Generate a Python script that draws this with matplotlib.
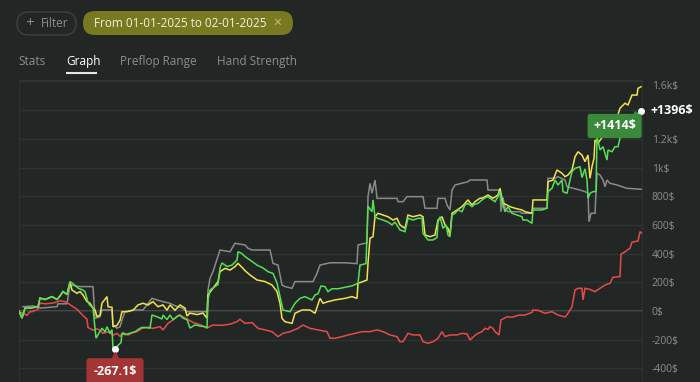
import matplotlib.pyplot as plt
from matplotlib.patches import FancyBboxPatch
from matplotlib import transforms

# Colours ---------------------------------------------------------------------
BG     = '#222726'
GRID   = '#2e3332'
ZERO   = '#565a59'
TICK   = '#8b8f8e'
GREEN  = '#55e055'
YELLOW = '#f2e34a'
GRAY   = '#8a8a8a'
RED    = '#e84a4a'

plt.rcParams['font.family'] = ['Open Sans', 'DejaVu Sans']

# Data: (hand, $) -----------------------------------------------------------------
green = [(19,0),(22,-50),(25,20),(30,20),(38,30),(40,90),(45,80),(52,100),(57,80),(60,105),
         (63,135),(67,115),(70,205),(73,190),(78,160),(83,145),(85,135),(88,60),(90,40),(93,20),
         (96,-190),(98,-165),(102,-120),(105,-145),(107,-110),(110,-155),(112,-130),(113,-258),
         (115,-267.1),(118,-240),(121,-220),(122,-155),(125,-165),(130,-155),(135,-145),(140,-120),
         (143,-114),(150,-119),(152,-28),(157,-40),(162,-56),(163,-28),(167,-60),(170,-28),(173,-60),
         (177,-40),(180,-28),(183,-50),(187,-60),(190,-119),(195,-97),(200,-105),(205,-110),(207,-119),
         (208,77),(210,146),(213,160),(218,185),(220,300),(222,335),(227,310),(232,320),(237,355),
         (238,413),(242,400),(245,379),(250,355),(257,320),(263,300),(268,274),(273,262),(277,195),
         (280,100),(283,7),(290,-5),(295,54),(300,88),(305,100),(312,77),(315,112),(318,120),(321,174),
         (325,170),(328,135),(332,155),(338,155),(345,165),(352,175),(358,193),(360,320),(366,330),
         (368,730),(372,692),(373,774),(375,657),(378,645),(383,634),(388,620),(392,600),(395,620),
         (400,565),(405,553),(408,646),(413,634),(418,646),(422,646),(423,541),(428,495),(433,495),
         (437,512),(438,620),(440,657),(443,576),(446,600),(448,530),(450,518),(452,669),(455,680),
         (458,704),(462,692),(465,739),(468,750),(472,727),(475,745),(478,750),(482,774),(487,797),
         (490,786),(495,762),(498,797),(500,832),(502,762),(505,692),(508,727),(512,681),(517,669),
         (522,657),(523,634),(527,634),(532,611),(533,704),(537,704),(542,704),(547,716),(548,832),
         (552,855),(555,913),(558,878),(562,913),(563,832),(567,820),(570,913),(572,971),(575,994),
         (580,1006),(582,930),(585,990),(587,913),(588,785),(590,820),(593,832),(596,832),(597,1215),
         (600,1122),(603,1145),(607,1052),(608,1122),(612,1110),(615,1145),(618,1145),(620,1204),
         (625,1260),(630,1320),(635,1360),(640,1389),(641,1396)]

yellow = [(19,0),(22,-50),(25,20),(30,20),(38,30),(40,90),(45,80),(52,100),(57,80),(60,105),
          (63,135),(67,115),(70,200),(72,146),(77,123),(80,135),(83,112),(87,65),(90,54),(93,20),
          (95,7),(97,-40),(100,-30),(102,55),(107,100),(108,30),(112,25),(113,-110),(117,-100),
          (120,-65),(122,-5),(127,-5),(133,5),(138,42),(143,54),(148,42),(153,65),(158,30),(163,42),
          (167,5),(170,42),(175,5),(180,42),(185,20),(187,-35),(190,-15),(197,-25),(203,-15),(207,-50),
          (208,112),(213,158),(218,205),(220,274),(225,297),(230,285),(235,309),(238,332),(243,297),
          (245,281),(250,251),(257,216),(265,205),(272,181),(277,135),(280,54),(282,-51),(285,-75),
          (292,-86),(295,-16),(302,7),(310,7),(315,-16),(320,88),(323,54),(328,65),(335,77),(345,88),
          (352,100),(357,88),(358,193),(363,205),(367,216),(368,332),(370,507),(373,518),(375,657),
          (378,681),(383,669),(388,657),(393,634),(397,646),(400,600),(405,576),(408,669),(413,657),
          (420,669),(423,657),(425,530),(430,518),(435,530),(438,634),(442,657),(445,600),(448,576),
          (450,530),(452,681),(457,704),(462,727),(465,750),(468,774),(472,739),(475,762),(480,786),
          (482,786),(488,808),(493,786),(498,808),(500,855),(503,750),(507,739),(510,727),(515,716),
          (522,704),(525,692),(532,681),(533,774),(538,774),(547,774),(548,901),(553,913),(557,983),
          (562,960),(565,936),(568,948),(572,983),(575,1075),(578,1110),(582,1087),(585,1041),
          (588,1087),(590,925),(592,1006),(594,1064),(595,1192),(598,1169),(603,1220),(608,1270),
          (613,1320),(618,1370),(620,1413),(625,1448),(628,1436),(632,1505),(637,1505),(638,1552),
          (641,1563)]

gray = [(23,30),(33,35),(40,20),(57,30),(58,50),(67,50),(70,181),(80,170),(93,170),(95,-51),
        (100,-40),(102,7),(112,7),(113,-98),(117,-120),(120,-110),(122,-63),(125,-5),(133,7),
        (143,7),(152,88),(157,77),(163,65),(170,54),(173,42),(178,30),(182,20),(187,-5),(207,-5),
        (208,146),(210,228),(213,274),(220,425),(230,413),(235,472),(245,460),(248,437),(252,425),
        (270,425),(273,332),(278,320),(282,181),(285,170),(292,158),(295,205),(313,205),(317,262),
        (320,320),(330,336),(345,336),(357,330),(358,460),(365,472),(367,472),(368,797),(370,890),
        (372,820),(375,913),(377,785),(397,785),(398,762),(403,762),(407,797),(423,797),(425,716),
        (437,716),(438,785),(445,785),(447,739),(450,704),(452,843),(455,878),(468,901),(470,913),
        (487,913),(488,843),(500,843),(501,692),(503,790),(505,720),(508,692),(520,692),(522,681),
        (532,681),(533,716),(547,716),(548,925),(555,925),(558,936),(565,913),(567,866),(580,843),
        (585,832),(588,820),(589,622),(591,681),(595,681),(597,960),(600,948),(603,913),(605,866),
        (607,913),(610,890),(617,878),(627,855),(642,848)]

red = [(19,-5),(23,-16),(27,-30),(30,-5),(32,-5),(38,12),(40,55),(45,50),(52,54),(58,65),(60,72),
       (65,65),(68,54),(73,30),(77,12),(82,-25),(87,-58),(88,-115),(93,-133),(97,-125),(100,-133),
       (103,-156),(108,-145),(113,-168),(117,-156),(120,-177),(123,-150),(128,-168),(133,-150),
       (137,-144),(142,-121),(148,-113),(153,-121),(160,-109),(163,-132),(168,-86),(173,-63),
       (178,-30),(183,-40),(188,-60),(193,-80),(200,-95),(207,-118),(213,-98),(222,-100),(230,-92),
       (237,-74),(240,-58),(245,-86),(252,-81),(258,-121),(265,-132),(272,-144),(278,-179),
       (283,-156),(290,-144),(298,-121),(303,-98),(310,-121),(318,-132),(327,-144),(330,-190),
       (335,-190),(342,-179),(348,-167),(355,-156),(362,-144),(370,-144),(377,-132),(383,-144),
       (390,-167),(397,-179),(400,-214),(403,-214),(408,-156),(413,-167),(420,-167),(423,-214),
       (428,-225),(433,-214),(438,-190),(442,-144),(445,-179),(450,-167),(457,-167),(462,-156),
       (467,-160),(470,-202),(475,-170),(478,-156),(482,-144),(485,-121),(488,-128),(490,-109),
       (493,-121),(495,-144),(499,-167),(501,-63),(507,-40),(512,-44),(518,-30),(525,-28),
       (532,-10),(533,7),(538,5),(545,-16),(552,-5),(558,-28),(565,-42),(568,-16),(572,30),
       (575,146),(578,158),(582,158),(583,77),(585,158),(590,150),(595,135),(600,158),(605,181),
       (610,193),(613,235),(620,240),(621,395),(625,413),(630,437),(632,480),(638,488),(640,553),
       (642,541)]

tick_vals   = [-400, -200, 0, 200, 400, 600, 800, 1000, 1200, 1400, 1600]
tick_labels = ['-400$', '-200$', '0$', '200$', '400$', '600$', '800$', '1k$', '1.2k$', '', '1.6k$']
hover_label = '+1414$'
tabs        = ['Stats', 'Graph', 'Preflop Range', 'Hand Strength']
date_range  = 'From 01-01-2025 to 02-01-2025'


def unzip(pts):
    return [p[0] for p in pts], [p[1] for p in pts]


# Figure -----------------------------------------------------------------------
fig = plt.figure(figsize=(7, 3.82), dpi=100)
fig.patch.set_facecolor(BG)

ax = fig.add_axes([19/700, 0, 623/700, 302/382])
ax.set_facecolor(BG)

for pts, col, z in [(gray, GRAY, 2), (red, RED, 3), (yellow, YELLOW, 4), (green, GREEN, 5)]:
    xs, ys = unzip(pts)
    ax.plot(xs, ys, color=col, lw=1.1, zorder=z, solid_joinstyle='miter')

ax.set_xlim(19, 642)
ax.set_ylim(-495, 1610)
ax.set_xticks([])
ax.yaxis.tick_right()
ax.set_yticks(tick_vals)
ax.set_yticklabels(tick_labels)
ax.tick_params(axis='y', length=0, pad=7, labelcolor=TICK, labelsize=7.5)
ax.yaxis.get_ticklabels()[-1].set_va('top')
ax.grid(axis='y', color=GRID, lw=1, zorder=0)
ax.axhline(0, color=ZERO, lw=1.2, zorder=1)
for side in ['left', 'right', 'top']:
    ax.spines[side].set_color(GRID)
ax.spines['bottom'].set_visible(False)

# Markers and labels --------------------------------------------------------------
gx, gy = unzip(green)
i_min = gy.index(min(gy))
ax.plot([gx[i_min], gx[-1]], [gy[i_min], gy[-1]], 'o', color='white', ms=4, zorder=7, clip_on=False)

ax.annotate(f'+{gy[-1]:.0f}$', xy=(gx[-1], gy[-1]), xytext=(7, 0), textcoords='offset points',
            color='white', fontsize=9, fontweight='bold', va='center', ha='left', annotation_clip=False)

# min tooltip (red)
ax.annotate(f'{gy[i_min]:.1f}$', xy=(gx[i_min], gy[i_min]), xytext=(0, -16), textcoords='offset points',
            color='white', fontsize=9, fontweight='bold', va='center', ha='center', zorder=8,
            bbox=dict(boxstyle='round,pad=0.55,rounding_size=0.25', fc='#a33535', ec='none'),
            annotation_clip=False)
tri = transforms.offset_copy(ax.transData, fig=fig, x=0, y=-4.5, units='points')
ax.plot([gx[i_min]], [gy[i_min]], marker='^', color='#a33535', ms=6, transform=tri, zorder=8, clip_on=False)

# hover tooltip (green)
ax.annotate(hover_label, xy=(gx[-1], gy[-1]), xytext=(-19, -11), textcoords='offset points',
            color='white', fontsize=9, fontweight='bold', va='center', ha='center', zorder=8,
            bbox=dict(boxstyle='round,pad=0.45,rounding_size=0.2', fc='#3b8a3b', ec='none'),
            annotation_clip=False)
tri2 = transforms.offset_copy(ax.transData, fig=fig, x=-4, y=-2.5, units='points')
ax.plot([gx[-1]], [gy[-1]], marker='^', color='#3b8a3b', ms=5, transform=tri2, zorder=8, clip_on=False)

# Header (pixel coordinates) ------------------------------------------------------
hd = fig.add_axes([0, 0, 1, 1])
hd.set_xlim(0, 700)
hd.set_ylim(382, 0)
hd.axis('off')
hd.patch.set_alpha(0)

hd.add_patch(FancyBboxPatch((17, 12), 59, 23, boxstyle='round,pad=0,rounding_size=11.5',
                            fc=BG, ec='#3d4241', lw=1))
hd.text(30, 23.5, '+', color=TICK, fontsize=11, ha='center', va='center')
hd.text(41, 23.5, 'Filter', color=TICK, fontsize=8.5, ha='left', va='center')

hd.add_patch(FancyBboxPatch((83, 11), 210, 24, boxstyle='round,pad=0,rounding_size=12',
                            fc='#797a1f', ec='none'))
hd.text(94, 23.5, date_range, color='#f2f2e6', fontsize=8.5, ha='left', va='center')
hd.text(277, 23, '×', color='#c2c290', fontsize=10, ha='center', va='center')

tab_x = [18, 66, 120, 217]
for name, x in zip(tabs, tab_x):
    hd.text(x, 61.5, name, color='white' if name == 'Graph' else TICK, fontsize=8.5,
            ha='left', va='center')
hd.plot([66, 97], [72.5, 72.5], color='#e6e6e6', lw=1.5, solid_capstyle='butt')

fig.savefig('out.png', dpi=100, facecolor=BG)
